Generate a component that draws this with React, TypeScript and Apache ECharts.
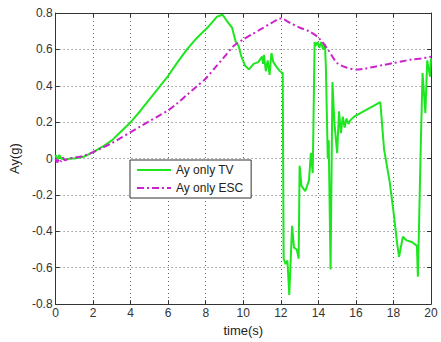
import React, { useEffect, useRef } from "react";
import * as echarts from "echarts";

// Ay only TV (green solid)
const tvTime = [
  0, 0.1, 0.2, 0.3, 0.5, 0.8, 1.0, 1.5, 2.0, 2.5, 3.0, 3.5, 4.0, 4.5, 5.0, 5.5, 6.0, 6.5, 7.0, 7.5,
  7.7, 8.1, 8.35, 8.6, 8.9, 9.1, 9.4, 9.6, 9.75, 9.9, 10.1, 10.3, 10.55, 10.8, 11.0, 11.05, 11.1, 11.2,
  11.3, 11.4, 11.5, 11.6, 11.8, 11.95, 12.1, 12.15, 12.25, 12.35, 12.45, 12.5, 12.6, 12.7, 12.85, 12.95,
  13.0, 13.1, 13.3, 13.5, 13.6, 13.7, 13.8, 13.85, 13.95, 14.05, 14.15, 14.25, 14.35, 14.4, 14.5, 14.55,
  14.65, 14.75, 14.85, 15.0, 15.1, 15.2, 15.3, 15.4, 15.5, 15.6, 15.7, 15.9, 16.6, 17.3, 17.5, 17.8, 18.0,
  18.2, 18.3, 18.5, 18.7, 19.0, 19.25, 19.3, 19.35, 19.45, 19.55, 19.7, 19.8, 19.95, 20.0,
];
const tvAy = [
  0.02, -0.01, 0.02, 0.0, -0.005, 0.0, 0.0, 0.01, 0.035, 0.065, 0.1, 0.15, 0.2, 0.26, 0.325, 0.39, 0.455,
  0.53, 0.6, 0.66, 0.68, 0.72, 0.75, 0.78, 0.79, 0.76, 0.72, 0.64, 0.62, 0.56, 0.51, 0.49, 0.52, 0.53,
  0.56, 0.52, 0.57, 0.48, 0.54, 0.46, 0.58, 0.53, 0.5, 0.48, 0.47, -0.55, -0.58, -0.56, -0.75, -0.62,
  -0.37, -0.49, -0.5, -0.55, -0.04, -0.15, -0.18, -0.12, 0.03, -0.08, 0.64, 0.62, 0.64, 0.61, 0.64, 0.6,
  0.63, 0.5, 0.0, 0.1, -0.61, 0.42, 0.2, 0.03, 0.26, 0.14, 0.23, 0.17, 0.22, 0.19, 0.21, 0.23, 0.27, 0.31,
  0.05, -0.13, -0.29, -0.47, -0.54, -0.43, -0.45, -0.46, -0.48, -0.65, -0.43, 0.05, 0.47, 0.25, 0.54,
  0.45, 0.55,
];

// Ay only ESC (magenta dash-dot)
const escTime = [
  0, 0.1, 0.2, 0.3, 0.4, 0.5, 0.7, 1.0, 1.5, 2, 2.5, 3, 3.5, 4, 4.5, 5, 5.5, 6, 6.5, 7, 7.5, 8, 8.5, 9,
  9.5, 10, 10.5, 11, 11.5, 12, 12.5, 13, 13.5, 14, 14.5, 15, 15.5, 16, 16.5, 17, 17.5, 18, 18.5, 19,
  19.5, 20,
];
const escAy = [
  0, -0.02, 0.0, -0.015, 0.005, -0.01, 0.0, 0.005, 0.015, 0.035, 0.06, 0.085, 0.115, 0.145, 0.175,
  0.205, 0.235, 0.265, 0.305, 0.35, 0.395, 0.44, 0.5, 0.56, 0.62, 0.655, 0.685, 0.715, 0.745, 0.77,
  0.745, 0.72, 0.7, 0.665, 0.6, 0.525, 0.5, 0.49, 0.495, 0.505, 0.515, 0.525, 0.535, 0.545, 0.55, 0.56,
];

const seriesNames = ["Ay only TV", "Ay only ESC"];
const xName = "time(s)";
const yName = "Ay(g)";

const font = "Liberation Sans, Arial, sans-serif";

export default function App() {
  const ref = useRef<HTMLDivElement>(null);
  useEffect(() => {
    if (!ref.current) return;
    const chart = echarts.init(ref.current, null, { renderer: "svg" });
    const tvData = tvTime.map((t, i) => [t, tvAy[i]]);
    const escData = escTime.map((t, i) => [t, escAy[i]]);
    const axisLine = { show: true, onZero: false, lineStyle: { color: "#333", width: 1 } };
    const tick = { show: true, inside: true, length: 4, lineStyle: { color: "#333" } };
    const grid = { show: true, lineStyle: { color: "#666", type: [1, 3] as any, width: 1 } };
    chart.setOption({
      animation: false,
      backgroundColor: "#fff",
      grid: { left: 55, right: 10, top: 13, bottom: 35, show: false },
      legend: {
        left: 130,
        top: 160,
        orient: "vertical",
        data: seriesNames,
        backgroundColor: "#fff",
        borderColor: "#333",
        borderWidth: 1,
        borderRadius: 0,
        padding: [4, 8, 4, 6],
        itemWidth: 34,
        itemHeight: 12,
        itemGap: 6,
        itemStyle: { opacity: 0 },
        textStyle: { fontFamily: font, fontSize: 12, color: "#222" },
      },
      xAxis: [
        {
          type: "value",
          min: 0,
          max: 20,
          interval: 2,
          name: xName,
          nameLocation: "middle",
          nameGap: 14,
          nameTextStyle: { fontFamily: font, fontSize: 13, color: "#222" },
          axisLine,
          axisTick: tick,
          axisLabel: { fontFamily: font, fontSize: 12, color: "#333", margin: 3 },
          splitLine: grid,
        },
        {
          type: "value",
          position: "top",
          min: 0,
          max: 20,
          interval: 2,
          axisLine,
          axisTick: tick,
          axisLabel: { show: false },
          splitLine: { show: false },
        },
      ],
      yAxis: [
        {
          type: "value",
          min: -0.8,
          max: 0.8,
          interval: 0.2,
          name: yName,
          nameLocation: "middle",
          nameGap: 27,
          nameTextStyle: { fontFamily: font, fontSize: 13, color: "#222" },
          axisLine,
          axisTick: tick,
          axisLabel: { fontFamily: font, fontSize: 12, color: "#333", margin: 3 },
          splitLine: grid,
        },
        {
          type: "value",
          position: "right",
          min: -0.8,
          max: 0.8,
          interval: 0.2,
          axisLine,
          axisTick: tick,
          axisLabel: { show: false },
          splitLine: { show: false },
        },
      ],
      series: [
        {
          name: seriesNames[0],
          type: "line",
          data: tvData,
          showSymbol: false,
          symbol: "none",
          lineStyle: { color: "#1ee61e", width: 2 },
          itemStyle: { color: "#1ee61e" },
          z: 2,
        },
        {
          name: seriesNames[1],
          type: "line",
          data: escData,
          showSymbol: false,
          symbol: "none",
          smooth: 0.3,
          lineStyle: { color: "#cc22cc", width: 2, type: [7, 3, 2, 3] },
          itemStyle: { color: "#cc22cc" },
          z: 3,
        },
      ],
    });
    return () => chart.dispose();
  }, []);
  return (
    <div
      ref={ref}
      style={{ position: "fixed", left: 0, top: 0, width: 441, height: 342, background: "#fff" }}
    />
  );
}
